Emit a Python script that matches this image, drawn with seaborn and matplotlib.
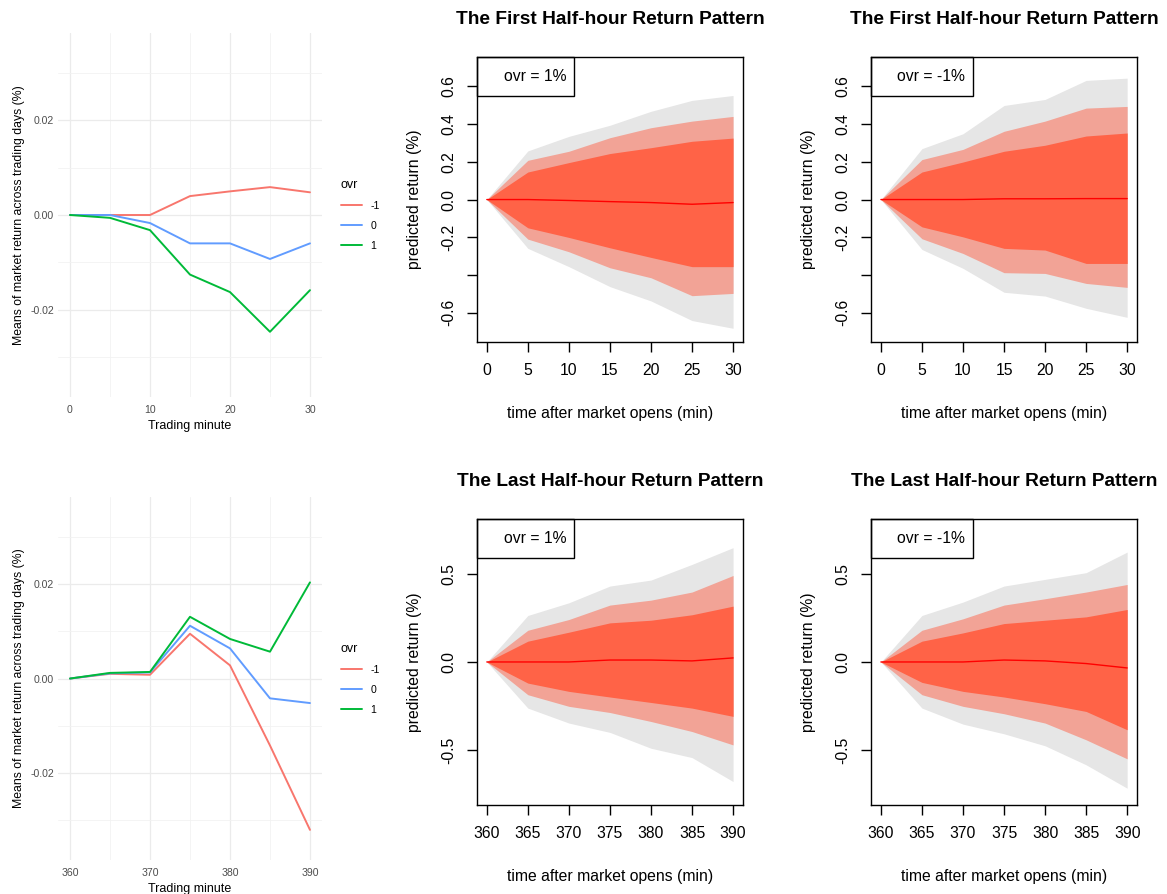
import matplotlib
matplotlib.use("Agg")
import matplotlib.pyplot as plt
from matplotlib.patches import Rectangle
import pandas as pd
import seaborn as sns

# ---- data ----
first_minutes = [0, 5, 10, 15, 20, 25, 30]
last_minutes = [360, 365, 370, 375, 380, 385, 390]
ovr_levels = ["-1", "0", "1"]

# means of market return across trading days (%), by ovr
first_mean_neg = [0.0, 0.0, 0.0, 0.0040, 0.0050, 0.0059, 0.0048]
first_mean_zero = [0.0, 0.0, -0.0017, -0.0060, -0.0060, -0.0093, -0.0060]
first_mean_pos = [0.0, -0.0006, -0.0032, -0.0126, -0.0163, -0.0247, -0.0159]

last_mean_neg = [0.0, 0.0010, 0.0008, 0.0095, 0.0028, -0.0142, -0.0321]
last_mean_zero = [0.0, 0.0011, 0.0013, 0.0112, 0.0064, -0.0042, -0.0052]
last_mean_pos = [0.0, 0.0012, 0.0014, 0.0131, 0.0084, 0.0057, 0.0204]

# fan charts: median and three prediction bands
first_pos_med = [0, 0, -0.005, -0.011, -0.016, -0.025, -0.016]
first_pos_in_hi = [0, 0.146, 0.196, 0.244, 0.275, 0.309, 0.326]
first_pos_in_lo = [0, -0.150, -0.201, -0.256, -0.307, -0.356, -0.356]
first_pos_mid_hi = [0, 0.208, 0.256, 0.328, 0.381, 0.416, 0.441]
first_pos_mid_lo = [0, -0.210, -0.277, -0.362, -0.415, -0.510, -0.498]
first_pos_out_hi = [0, 0.258, 0.335, 0.394, 0.468, 0.526, 0.552]
first_pos_out_lo = [0, -0.259, -0.356, -0.462, -0.538, -0.642, -0.683]

first_neg_med = [0, 0, 0, 0.004, 0.004, 0.005, 0.005]
first_neg_in_hi = [0, 0.146, 0.199, 0.256, 0.288, 0.337, 0.353]
first_neg_in_lo = [0, -0.145, -0.198, -0.259, -0.268, -0.339, -0.339]
first_neg_mid_hi = [0, 0.212, 0.266, 0.362, 0.416, 0.485, 0.494]
first_neg_mid_lo = [0, -0.208, -0.286, -0.388, -0.392, -0.445, -0.466]
first_neg_out_hi = [0, 0.270, 0.349, 0.499, 0.531, 0.632, 0.644]
first_neg_out_lo = [0, -0.265, -0.365, -0.492, -0.512, -0.577, -0.625]

last_pos_med = [0, 0, 0, 0.011, 0.011, 0.006, 0.023]
last_pos_in_hi = [0, 0.118, 0.169, 0.222, 0.237, 0.268, 0.317]
last_pos_in_lo = [0, -0.120, -0.167, -0.199, -0.230, -0.262, -0.309]
last_pos_mid_hi = [0, 0.180, 0.241, 0.323, 0.351, 0.397, 0.491]
last_pos_mid_lo = [0, -0.186, -0.252, -0.287, -0.338, -0.395, -0.471]
last_pos_out_hi = [0, 0.264, 0.336, 0.431, 0.465, 0.554, 0.649]
last_pos_out_lo = [0, -0.262, -0.347, -0.400, -0.490, -0.543, -0.679]

last_neg_med = [0, 0, 0, 0.011, 0.006, -0.009, -0.034]
last_neg_in_hi = [0, 0.118, 0.165, 0.218, 0.237, 0.256, 0.298]
last_neg_in_lo = [0, -0.116, -0.167, -0.199, -0.237, -0.281, -0.385]
last_neg_mid_hi = [0, 0.180, 0.245, 0.323, 0.359, 0.397, 0.440]
last_neg_mid_lo = [0, -0.186, -0.252, -0.294, -0.347, -0.442, -0.550]
last_neg_out_hi = [0, 0.264, 0.340, 0.431, 0.469, 0.507, 0.624]
last_neg_out_lo = [0, -0.262, -0.353, -0.408, -0.476, -0.584, -0.717]

first_yticks = [-0.6, -0.4, -0.2, 0.0, 0.2, 0.4, 0.6]
first_yticklabels = ["-0.6", "", "-0.2", "0.0", "0.2", "0.4", "0.6"]
last_yticks = [-0.5, 0.0, 0.5]
last_yticklabels = ["-0.5", "0.0", "0.5"]

sns.set_style("white")
plt.rcParams["font.family"] = ["Liberation Sans", "DejaVu Sans"]
plt.rcParams["text.color"] = "black"
plt.rcParams["axes.labelcolor"] = "black"
plt.rcParams["xtick.color"] = "black"
plt.rcParams["ytick.color"] = "black"

hue_colors = {"-1": "#F8766D", "0": "#619CFF", "1": "#00BA38"}


def mean_panel(ax, minutes, neg, zero, pos):
    df = pd.DataFrame({
        "minute": minutes * 3,
        "ret": neg + zero + pos,
        "ovr": [ovr_levels[0]] * 7 + [ovr_levels[1]] * 7 + [ovr_levels[2]] * 7,
    })
    sns.lineplot(data=df, x="minute", y="ret", hue="ovr", palette=hue_colors,
                 lw=1.4, ax=ax)
    x0, x1 = minutes[0], minutes[-1]
    ax.set_xlim(x0 - 1.5, x1 + 1.5)
    ax.set_ylim(-0.0385, 0.0385)
    ax.set_xticks([x0, x0 + 10, x0 + 20, x0 + 30])
    ax.set_xticks([x0 + 5, x0 + 15, x0 + 25], minor=True)
    ax.set_yticks([-0.02, 0.0, 0.02])
    ax.set_yticklabels(["-0.02", "0.00", "0.02"])
    ax.set_yticks([-0.03, -0.01, 0.01, 0.03], minor=True)
    ax.grid(which="major", color="#EBEBEB", lw=0.9)
    ax.grid(which="minor", color="#F2F2F2", lw=0.6)
    for s in ax.spines.values():
        s.set_visible(False)
    ax.tick_params(which="both", length=0, labelsize=7.6, labelcolor="#4D4D4D", pad=3)
    ax.tick_params(axis="x", pad=6)
    ax.set_xlabel("Trading minute", fontsize=9, labelpad=3)
    ax.set_ylabel("Means of market return across trading days (%)", fontsize=8.8, labelpad=4)
    ax.legend(title="ovr", loc="center left", bbox_to_anchor=(1.055, 0.5),
              frameon=False, fontsize=7.6, title_fontsize=9, handlelength=2.0,
              labelspacing=0.95, borderaxespad=0)
    ax.get_legend()._legend_box.align = "left"


def fan_panel(ax, minutes, med, in_lo, in_hi, mid_lo, mid_hi, out_lo, out_hi,
              title, label, box_w, text_x, ylim, yticks, yticklabels):
    ax.fill_between(minutes, out_lo, out_hi, color="#E6E6E6", lw=0)
    ax.fill_between(minutes, mid_lo, mid_hi, color="#F2A396", lw=0)
    ax.fill_between(minutes, in_lo, in_hi, color="#FF6347", lw=0)
    sns.lineplot(x=minutes, y=med, color="red", lw=1.0, ax=ax)
    span = minutes[-1] - minutes[0]
    ax.set_xlim(minutes[0] - 0.04 * span, minutes[-1] + 0.04 * span)
    ax.set_ylim(-ylim, ylim)
    ax.set_xticks(minutes)
    ax.set_yticks(yticks)
    ax.set_yticklabels(yticklabels)
    ax.grid(False)
    for s in ax.spines.values():
        s.set_visible(True)
        s.set_color("black")
        s.set_linewidth(1.0)
    ax.tick_params(direction="out", length=7, width=1.0, labelsize=11.3, color="black",
                   labelcolor="black", pad=8, bottom=True, left=True)
    ax.tick_params(axis="y", labelrotation=90)
    for t in ax.get_yticklabels():
        t.set_va("center")
    ax.set_title(title, fontsize=13.8, fontweight="bold", pad=24, color="black")
    ax.set_xlabel("time after market opens (min)", fontsize=11.3, labelpad=20)
    ax.set_ylabel("predicted return (%)", fontsize=11.3, labelpad=14)
    h = 0.137
    ax.add_patch(Rectangle((0, 1 - h), box_w, h, transform=ax.transAxes,
                           fill=False, ec="black", lw=1.0, clip_on=False, zorder=5))
    ax.text(text_x, 1 - h / 2, label, transform=ax.transAxes, ha="right",
            va="center", fontsize=11.3, zorder=6)


fig = plt.figure(figsize=(11.67, 8.94), dpi=100)

ax_tl = fig.add_axes([0.0497, 0.5559, 0.2262, 0.4072])
ax_bl = fig.add_axes([0.0497, 0.0380, 0.2262, 0.4060])
ax_tm = fig.add_axes([0.4087, 0.6174, 0.2279, 0.3188])
ax_bm = fig.add_axes([0.4087, 0.0996, 0.2279, 0.3199])
ax_tr = fig.add_axes([0.7464, 0.6174, 0.2279, 0.3188])
ax_br = fig.add_axes([0.7464, 0.0996, 0.2279, 0.3199])

mean_panel(ax_tl, first_minutes, first_mean_neg, first_mean_zero, first_mean_pos)
mean_panel(ax_bl, last_minutes, last_mean_neg, last_mean_zero, last_mean_pos)

first_title = "The First Half-hour Return Pattern"
last_title = "The Last Half-hour Return Pattern"

fan_panel(ax_tm, first_minutes, first_pos_med, first_pos_in_lo, first_pos_in_hi,
          first_pos_mid_lo, first_pos_mid_hi, first_pos_out_lo, first_pos_out_hi,
          first_title, "ovr = 1%", 0.365, 0.335, 0.756, first_yticks, first_yticklabels)
fan_panel(ax_tr, first_minutes, first_neg_med, first_neg_in_lo, first_neg_in_hi,
          first_neg_mid_lo, first_neg_mid_hi, first_neg_out_lo, first_neg_out_hi,
          first_title, "ovr = -1%", 0.383, 0.352, 0.756, first_yticks, first_yticklabels)
fan_panel(ax_bm, last_minutes, last_pos_med, last_pos_in_lo, last_pos_in_hi,
          last_pos_mid_lo, last_pos_mid_hi, last_pos_out_lo, last_pos_out_hi,
          last_title, "ovr = 1%", 0.365, 0.335, 0.812, last_yticks, last_yticklabels)
fan_panel(ax_br, last_minutes, last_neg_med, last_neg_in_lo, last_neg_in_hi,
          last_neg_mid_lo, last_neg_mid_hi, last_neg_out_lo, last_neg_out_hi,
          last_title, "ovr = -1%", 0.383, 0.352, 0.812, last_yticks, last_yticklabels)

fig.savefig("out.png", dpi=100)
